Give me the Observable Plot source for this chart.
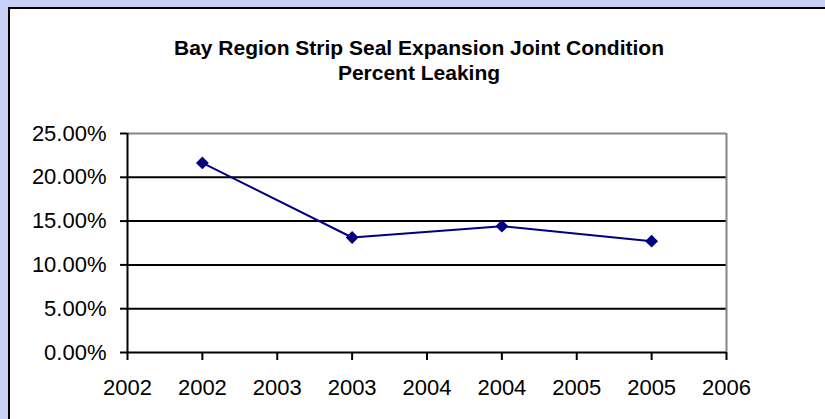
<!DOCTYPE html>
<html>
<head>
<meta charset="utf-8">
<script src="https://cdn.jsdelivr.net/npm/d3@7"></script>
<script src="https://cdn.jsdelivr.net/npm/@observablehq/plot@0.6"></script>
<style>
  html, body { margin: 0; padding: 0; }
  body {
    width: 825px; height: 419px; overflow: hidden; position: relative;
    background: #C8D0F5;
    font-family: "Liberation Sans", Arial, Helvetica, sans-serif;
  }
  #frame {
    position: absolute; left: 8px; top: 7px; width: 840px; height: 440px;
    background: #fff; border-left: 2px solid #000; border-top: 2px solid #000;
  }
  #title {
    position: absolute; left: 0; top: 35px; width: 838px;
    text-align: center; font-weight: bold; font-size: 21px; line-height: 25px;
    color: #000;
  }
  #chart { position: absolute; left: 0; top: 0; }
</style>
</head>
<body>
<div id="frame"></div>
<div id="title">Bay Region Strip Seal Expansion Joint Condition<br>Percent Leaking</div>
<div id="chart"></div>
<script>
// Yearly share of strip seal joints found leaking (percent)
const years = [2002, 2003, 2004, 2005];
const leaking = [21.64, 13.13, 14.42, 12.71];

// Axis ticks: half-year steps on x, labels rounded to whole years
const xTicks = [2001.5, 2002, 2002.5, 2003, 2003.5, 2004, 2004.5, 2005, 2005.5];
const xTickLabels = ["2002", "2002", "2003", "2003", "2004", "2004", "2005", "2005", "2006"];
const yTicks = [0, 5, 10, 15, 20, 25];
const yTickLabels = ["0.00%", "5.00%", "10.00%", "15.00%", "20.00%", "25.00%"];

const data = years.map((year, i) => ({year, value: leaking[i]}));
const xLabel = new Map(xTicks.map((t, i) => [t, xTickLabels[i]]));
const yLabel = new Map(yTicks.map((t, i) => [t, yTickLabels[i]]));

const plot = Plot.plot({
  width: 825,
  height: 419,
  marginLeft: 127,
  marginRight: 99,
  marginTop: 133,
  marginBottom: 67,
  x: {domain: [xTicks[0], xTicks[xTicks.length - 1]]},
  y: {domain: [yTicks[0], yTicks[yTicks.length - 1]]},
  style: {
    background: "transparent",
    color: "#000",
    fontFamily: "'Liberation Sans', Arial, Helvetica, sans-serif",
    fontSize: "22px"
  },
  marks: [
    // horizontal gridlines
    Plot.ruleY(yTicks.slice(1, -1), {stroke: "#000", strokeWidth: 2}),
    // plot-area border (top and right) in grey
    Plot.ruleY([yTicks[yTicks.length - 1]], {stroke: "#858585", strokeWidth: 2}),
    Plot.ruleX([xTicks[xTicks.length - 1]], {stroke: "#858585", strokeWidth: 2}),
    // axis lines
    Plot.ruleX([xTicks[0]], {stroke: "#000", strokeWidth: 2}),
    Plot.ruleY([yTicks[0]], {stroke: "#000", strokeWidth: 2}),
    Plot.axisY({
      ticks: yTicks, tickFormat: d => yLabel.get(d),
      tickSize: 7, tickPadding: 14, strokeWidth: 2, label: null
    }),
    Plot.axisX({
      ticks: xTicks, tickFormat: d => xLabel.get(d),
      tickSize: 8, tickPadding: 19, strokeWidth: 2, label: null
    }),
    Plot.line(data, {x: "year", y: "value", stroke: "#000080", strokeWidth: 2}),
    Plot.dot(data, {x: "year", y: "value", symbol: "diamond2", r: 5.8, fill: "#000080", stroke: "none"})
  ]
});
document.getElementById("chart").appendChild(plot);
</script>
</body>
</html>
